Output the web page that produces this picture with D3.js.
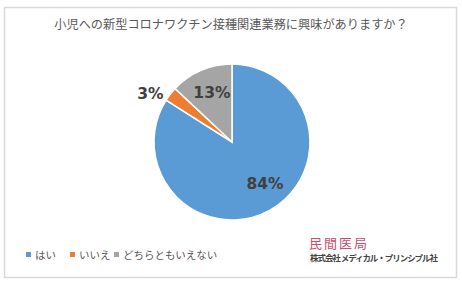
<!DOCTYPE html>
<html>
<head>
<meta charset="utf-8">
<script src="https://d3js.org/d3.v7.min.js"></script>
<style>
body { margin: 0; background: #fff; }
svg { font-family: "Noto Sans CJK JP", sans-serif; }
</style>
</head>
<body>
<svg id="chart" width="462" height="283"></svg>
<script>
const title = "小児への新型コロナワクチン接種関連業務に興味がありますか？";
const categories = ["はい", "いいえ", "どちらともいえない"];
const values = [84, 3, 13];
const colors = ["#5b9bd5", "#ed7d31", "#a5a5a5"];

const svg = d3.select("#chart");

// frame
svg.append("rect")
  .attr("x", 4.5).attr("y", 7.5)
  .attr("width", 452).attr("height", 270)
  .attr("fill", "#fff")
  .attr("stroke", "#d9d9d9")
  .attr("stroke-width", 1.5);

svg.append("text")
  .attr("x", 231).attr("y", 29)
  .attr("text-anchor", "middle")
  .attr("font-size", 12.2)
  .attr("fill", "#595959")
  .text(title);

const cx = 232, cy = 142, r = 78;
const pie = d3.pie().sort(null).value(d => d);
const arcs = pie(values);
const arc = d3.arc().innerRadius(0).outerRadius(r);

const g = svg.append("g").attr("transform", `translate(${cx},${cy})`);

g.selectAll("path")
  .data(arcs)
  .enter().append("path")
  .attr("d", arc)
  .attr("fill", (d, i) => colors[i])
  .attr("stroke", "#fff")
  .attr("stroke-width", 1.5);

// label placement: radius factor and angle nudge (radians) per slice
const labelRadius = [0.68, 1.22, 0.68];
const labelNudge = [-0.17, -0.12, 0.02];
function labelPos(d, i) {
  const a = (d.startAngle + d.endAngle) / 2 + labelNudge[i];
  const rr = r * labelRadius[i];
  return [Math.sin(a) * rr, -Math.cos(a) * rr];
}

g.selectAll("text.lbl")
  .data(arcs)
  .enter().append("text")
  .attr("class", "lbl")
  .attr("transform", (d, i) => `translate(${labelPos(d, i)})`)
  .attr("text-anchor", "middle")
  .attr("dy", "0.35em")
  .attr("font-family", "Verdana, 'DejaVu Sans', sans-serif")
  .attr("font-weight", "bold")
  .attr("font-size", 15.5)
  .attr("fill", "#404040")
  .text(d => d.value + "%");

// legend
const legendX = [26, 70, 114];
const legend = svg.selectAll("g.legend")
  .data(categories)
  .enter().append("g")
  .attr("class", "legend")
  .attr("transform", (d, i) => `translate(${legendX[i]},255)`);

legend.append("rect")
  .attr("x", 0).attr("y", -3)
  .attr("width", 5).attr("height", 5)
  .attr("fill", (d, i) => colors[i]);

legend.append("text")
  .attr("x", 9).attr("y", 0)
  .attr("dy", "0.35em")
  .attr("font-size", 10.5)
  .attr("fill", "#595959")
  .text(d => d);

// logo
svg.append("text")
  .attr("x", 309).attr("y", 248)
  .attr("font-size", 13)
  .attr("fill", "#c8506e")
  .attr("textLength", 58)
  .text("民間医局");

svg.append("text")
  .attr("x", 310).attr("y", 261)
  .attr("font-size", 8.5)
  .attr("font-weight", "bold")
  .attr("fill", "#444")
  .attr("textLength", 128)
  .text("株式会社 メディカル・プリンシプル社");
</script>
</body>
</html>
